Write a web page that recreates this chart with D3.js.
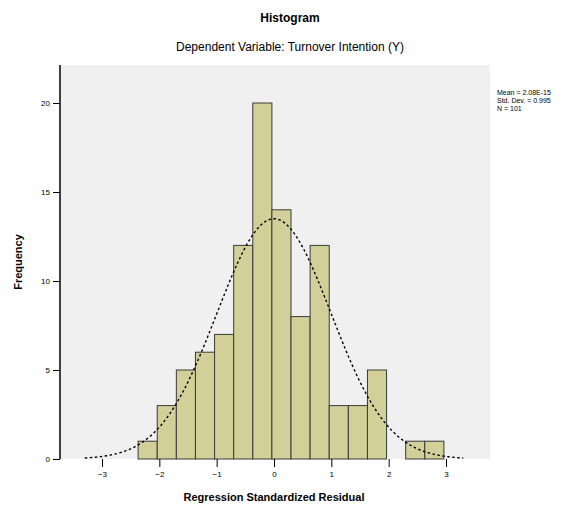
<!DOCTYPE html>
<html>
<head>
<meta charset="utf-8">
<script src="https://cdn.jsdelivr.net/npm/d3@7"></script>
<style>
  body { margin: 0; background: #fff; }
  text { font-family: "Liberation Sans", Arial, sans-serif; fill: #000; }
</style>
</head>
<body>
<div id="chart"></div>
<script>
// histogram bins (left edge of first bin + width), counts
const binStart = -2.37;
const binWidth = 1 / 3;
const counts = [1, 3, 5, 6, 7, 12, 20, 14, 8, 12, 3, 3, 5, 0, 1, 1];
const xTicks = [-3, -2, -1, 0, 1, 2, 3];
const yTicks = [0, 5, 10, 15, 20];
const legendLines = ["Mean = 2.08E-15", "Std. Dev. = 0.995", "N = 101"];
const mean = 0, sd = 0.995, n = 101;

const W = 587, H = 508;
const PLOT = { LEFT: 61, RIGHT: 490, TOP: 65, BOTTOM: 459 };

const svg = d3.select("#chart").append("svg")
    .attr("width", W).attr("height", H);

// scales
const x = d3.scaleLinear().domain([-3, 3]).range([102, 446]);
const y = d3.scaleLinear().domain([0, 20]).range([PLOT.BOTTOM, 103]);

// plot background
svg.append("rect")
    .attr("x", PLOT.LEFT).attr("y", PLOT.TOP)
    .attr("width", PLOT.RIGHT - PLOT.LEFT).attr("height", PLOT.BOTTOM - PLOT.TOP)
    .attr("fill", "#f0f0f0");

// bars
const bins = counts.map((c, i) => ({ x0: binStart + i * binWidth, x1: binStart + (i + 1) * binWidth, c }));
svg.append("g").selectAll("rect")
    .data(bins.filter(d => d.c > 0))
    .enter().append("rect")
        .attr("x", d => x(d.x0))
        .attr("y", d => y(d.c))
        .attr("width", d => x(d.x1) - x(d.x0))
        .attr("height", d => y(0) - y(d.c))
        .attr("fill", "#d3cf98")
        .attr("stroke", "#3a3a3a")
        .attr("stroke-width", 1);

// normal curve
const scale = n * binWidth;
const pts = d3.range(-3.3, 3.301, 0.02).map(v => [v, scale * Math.exp(-0.5 * ((v - mean) / sd) ** 2) / (sd * Math.sqrt(2 * Math.PI))]);
svg.append("path")
    .datum(pts)
    .attr("d", d3.line().x(d => x(d[0])).y(d => y(d[1])).curve(d3.curveBasis))
    .attr("fill", "none")
    .attr("stroke", "#000")
    .attr("stroke-width", 1.4)
    .attr("stroke-dasharray", "2.5,2.5");

// y axis
const yAxis = svg.append("g")
    .attr("transform", `translate(${PLOT.LEFT - 1}, 0)`)
    .call(d3.axisLeft(y).tickValues(yTicks).tickSize(7).tickPadding(3));
yAxis.select(".domain").attr("d", `M0,${PLOT.TOP}V${PLOT.BOTTOM}`).attr("stroke-width", 1.5);
yAxis.selectAll("text").style("font-size", "8px").style("font-family", "Liberation Sans, Arial, sans-serif");

// x axis (no baseline)
const xAxis = svg.append("g")
    .attr("transform", `translate(0, ${PLOT.BOTTOM})`)
    .call(d3.axisBottom(x).tickValues(xTicks).tickFormat(d3.format("d")).tickSize(8).tickPadding(4));
xAxis.select(".domain").remove();
xAxis.selectAll("text").style("font-size", "8px").style("font-family", "Liberation Sans, Arial, sans-serif");

// titles
svg.append("text")
    .attr("x", 290).attr("y", 22)
    .attr("text-anchor", "middle")
    .style("font-size", "12px").style("font-weight", "bold")
    .text("Histogram");
svg.append("text")
    .attr("x", 290).attr("y", 51)
    .attr("text-anchor", "middle")
    .style("font-size", "12px")
    .text("Dependent Variable: Turnover Intention (Y)");

// axis labels
svg.append("text")
    .attr("x", 274).attr("y", 501)
    .attr("text-anchor", "middle")
    .style("font-size", "11px").style("font-weight", "bold")
    .text("Regression Standardized Residual");
svg.append("text")
    .attr("transform", `translate(22, ${(PLOT.TOP + PLOT.BOTTOM) / 2}) rotate(-90)`)
    .attr("text-anchor", "middle")
    .style("font-size", "11px").style("font-weight", "bold")
    .text("Frequency");

// legend text
svg.append("g").selectAll("text")
    .data(legendLines)
    .enter().append("text")
        .attr("x", 497)
        .attr("y", (d, i) => 95 + i * 8)
        .style("font-size", "7px")
        .text(d => d);
</script>
</body>
</html>
